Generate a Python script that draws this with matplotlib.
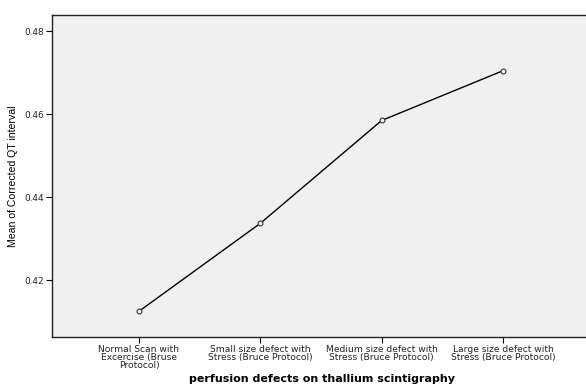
import matplotlib
matplotlib.use("Agg")
import matplotlib.pyplot as plt

categories = [
    "Normal Scan with\nExcercise (Bruse\nProtocol)",
    "Small size defect with\nStress (Bruce Protocol)",
    "Medium size defect with\nStress (Bruce Protocol)",
    "Large size defect with\nStress (Bruce Protocol)",
]
means = [0.4125, 0.4337, 0.4585, 0.4705]
yticks = [0.42, 0.44, 0.46, 0.48]

plt.rcParams['font.family'] = ['Liberation Sans', 'DejaVu Sans']

fig = plt.figure(figsize=(5.86, 3.85), dpi=100)
ax = fig.add_axes([0.0887, 0.1247, 0.92, 0.836])
ax.set_facecolor('#f0f0f0')

x = list(range(len(categories)))
ax.plot(x, means, color='black', linewidth=1.0, marker='o', markersize=3.5,
        markerfacecolor='#f0f0f0', markeredgecolor='#333333', markeredgewidth=0.8)

ax.set_xlim(-0.717, 3.726)
ax.set_ylim(0.4063, 0.4839)
ax.set_xticks(x)
ax.set_xticklabels(categories, fontsize=6.6, linespacing=0.8, family='DejaVu Sans',
                   color='#222222')
ax.set_yticks(yticks)
ax.set_yticklabels([f"{v:.2f}" for v in yticks], fontsize=6.4, family='DejaVu Sans',
                   color='#222222')
ax.tick_params(length=4, width=0.8, pad=2)

for s in ax.spines.values():
    s.set_linewidth(1.0)
    s.set_color('#222222')

ax.set_ylabel("Mean of Corrected QT interval", fontsize=7.6, labelpad=4)
ax.set_xlabel("perfusion defects on thallium scintigraphy", fontsize=8,
              fontweight='bold', family='DejaVu Sans', labelpad=3)

fig.savefig("out.png", dpi=100)
